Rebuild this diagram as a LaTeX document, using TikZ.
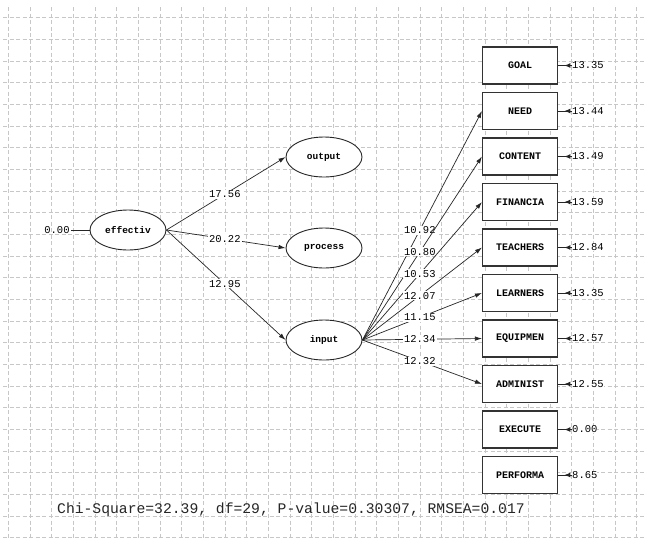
\documentclass[tikz,border=0pt]{standalone}
\usepackage{fontspec}
\setmainfont{Liberation Mono}
\usetikzlibrary{shapes.geometric,arrows.meta,decorations.markings}
\begin{document}
\begin{tikzpicture}[x=1pt,y=-1pt,
  gridline/.style={draw=black!22, line width=0.55pt, dash pattern=on 4pt off 2.5pt},
  lat/.style={ellipse, draw=black!85, line width=0.9pt, minimum width=76pt, minimum height=40pt, inner sep=0pt, fill=white, font=\bfseries\fontsize{9.5}{12}\selectfont},
  obs/.style={rectangle, draw=black!80, line width=1.1pt, minimum width=75pt, minimum height=37pt, inner sep=0pt, fill=white, font=\bfseries\fontsize{10}{12}\selectfont},
  val/.style={fill=white, inner sep=1pt, font=\fontsize{10.5}{12}\selectfont},
  errval/.style={inner sep=0pt, anchor=west, fill=white, font=\fontsize{10.5}{12}\selectfont},
  conn/.style={draw=black!85, line width=0.7pt, -{Latex[length=7pt,width=4.5pt]}},
  errconn/.style={draw=black!85, line width=1pt, postaction={decorate}, decoration={markings, mark=at position 0.55 with {\arrow{Latex[length=6pt,width=5pt]}}}},
]
\fill[white] (0,0) rectangle (647,539);
\useasboundingbox (0,0) rectangle (647,539);
% grid
\foreach \i in {0,...,29} \draw[gridline] ({8.3+21.67*\i},7) -- ({8.3+21.67*\i},539);
\foreach \j in {0,...,24} \draw[gridline] (3,{17.5+21.67*\j}) -- (647,{17.5+21.67*\j});

% latent variables
\node[lat] (eff) at (128,230) {effectiv};
\node[lat] (out) at (324,157) {output};
\node[lat] (pro) at (324,248) {process};
\node[lat] (inp) at (324,340) {input};

% observed variables
\node[obs] (goal)    at (520,65.5)  {GOAL};
\node[obs] (need)    at (520,111)   {NEED};
\node[obs] (content) at (520,156.5) {CONTENT};
\node[obs] (financ)  at (520,202)   {FINANCIA};
\node[obs] (teach)   at (520,247.5) {TEACHERS};
\node[obs] (learn)   at (520,293)   {LEARNERS};
\node[obs] (equip)   at (520,338.5) {EQUIPMEN};
\node[obs] (admin)   at (520,384)   {ADMINIST};
\node[obs] (exec)    at (520,429.5) {EXECUTE};
\node[obs] (perf)    at (520,475)   {PERFORMA};

% error values
\node[errval] (e1)  at (572,65.5)  {13.35};
\node[errval] (e2)  at (572,111)   {13.44};
\node[errval] (e3)  at (572,156.5) {13.49};
\node[errval] (e4)  at (572,202)   {13.59};
\node[errval] (e5)  at (572,247.5) {12.84};
\node[errval] (e6)  at (572,293)   {13.35};
\node[errval] (e7)  at (572,338.5) {12.57};
\node[errval] (e8)  at (572,384)   {12.55};
\node[errval] (e9)  at (572,429.5) {0.00};
\node[errval] (e10) at (572,475)   {8.65};
\foreach \e/\b in {e1/goal,e2/need,e3/content,e4/financ,e5/teach,e6/learn,e7/equip,e8/admin,e9/exec,e10/perf}
  \draw[errconn] (\e.west) -- (\b.east);

% zero variance of effectiv
\node[font=\fontsize{10.5}{12}\selectfont, inner sep=1pt] (zero) at (57,230) {0.00};
\draw[draw=black!85, line width=0.7pt] (zero.east) -- (eff.west);

% structural paths
\draw[conn] (eff.east) -- node[val, pos=0.49] {17.56} (out.west);
\draw[conn] (eff.east) -- node[val, pos=0.49] {20.22} (pro.west);
\draw[conn] (eff.east) -- node[val, pos=0.49] {12.95} (inp.west);

% measurement paths
\draw[conn] (inp.east) -- node[val, pos=0.48] {10.92} (need.west);
\draw[conn] (inp.east) -- node[val, pos=0.48] {10.80} (content.west);
\draw[conn] (inp.east) -- node[val, pos=0.48] {10.53} (financ.west);
\draw[conn] (inp.east) -- node[val, pos=0.48] {12.07} (teach.west);
\draw[conn] (inp.east) -- node[val, pos=0.48] {11.15} (learn.west);
\draw[conn] (inp.east) -- node[val, pos=0.48] {12.34} (equip.west);
\draw[conn] (inp.east) -- node[val, pos=0.48] {12.32} (admin.west);

% fit statistics
\node[anchor=west, inner sep=0pt, text=black!85, font=\fontsize{14.7}{16}\selectfont] (fit) at (57,510) {Chi-Square=32.39, df=29, P-value=0.30307, RMSEA=0.017};
\end{tikzpicture}
\end{document}
